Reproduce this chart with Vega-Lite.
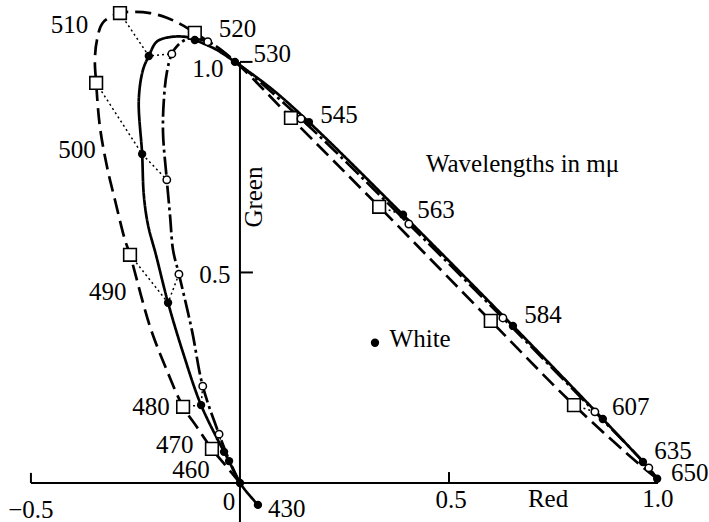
{
  "$schema": "https://vega.github.io/schema/vega-lite/v6.json",
  "width": 709,
  "height": 522,
  "padding": 0,
  "autosize": "none",
  "background": "white",
  "config": {"view": {"stroke": null}},
  "datasets": {
    "curves": [
      {"s": "A", "o": 1, "r": 0.043, "g": -0.052},
      {"s": "A", "o": 2, "r": 0, "g": 0},
      {"s": "A", "o": 3, "r": -0.026, "g": 0.052},
      {"s": "A", "o": 4, "r": -0.038, "g": 0.074},
      {"s": "A", "o": 5, "r": -0.093, "g": 0.185},
      {"s": "A", "o": 6, "r": -0.136, "g": 0.309},
      {"s": "A", "o": 7, "r": -0.172, "g": 0.428},
      {"s": "A", "o": 8, "r": -0.201, "g": 0.542},
      {"s": "A", "o": 9, "r": -0.22, "g": 0.613},
      {"s": "A", "o": 10, "r": -0.23, "g": 0.684},
      {"s": "A", "o": 11, "r": -0.234, "g": 0.781},
      {"s": "A", "o": 12, "r": -0.242, "g": 0.91},
      {"s": "A", "o": 13, "r": -0.232, "g": 0.981},
      {"s": "A", "o": 14, "r": -0.218, "g": 1.014},
      {"s": "A", "o": 15, "r": -0.199, "g": 1.048},
      {"s": "A", "o": 16, "r": -0.167, "g": 1.059},
      {"s": "A", "o": 17, "r": -0.127, "g": 1.059},
      {"s": "A", "o": 18, "r": -0.108, "g": 1.052},
      {"s": "A", "o": 19, "r": -0.06, "g": 1.031},
      {"s": "A", "o": 20, "r": -0.012, "g": 1.0},
      {"s": "A", "o": 21, "r": 0.077, "g": 0.935},
      {"s": "A", "o": 22, "r": 0.165, "g": 0.857},
      {"s": "A", "o": 23, "r": 0.39, "g": 0.637},
      {"s": "A", "o": 24, "r": 0.653, "g": 0.373},
      {"s": "A", "o": 25, "r": 0.868, "g": 0.152},
      {"s": "A", "o": 26, "r": 0.964, "g": 0.05},
      {"s": "A", "o": 27, "r": 0.998, "g": 0.01},
      {"s": "B", "o": 1, "r": 0, "g": 0},
      {"s": "B", "o": 2, "r": -0.033, "g": 0.04},
      {"s": "B", "o": 3, "r": -0.067, "g": 0.081},
      {"s": "B", "o": 4, "r": -0.103, "g": 0.133},
      {"s": "B", "o": 5, "r": -0.136, "g": 0.181},
      {"s": "B", "o": 6, "r": -0.175, "g": 0.268},
      {"s": "B", "o": 7, "r": -0.215, "g": 0.371},
      {"s": "B", "o": 8, "r": -0.263, "g": 0.542},
      {"s": "B", "o": 9, "r": -0.275, "g": 0.577},
      {"s": "B", "o": 10, "r": -0.299, "g": 0.672},
      {"s": "B", "o": 11, "r": -0.318, "g": 0.751},
      {"s": "B", "o": 12, "r": -0.335, "g": 0.846},
      {"s": "B", "o": 13, "r": -0.344, "g": 0.95},
      {"s": "B", "o": 14, "r": -0.347, "g": 1.005},
      {"s": "B", "o": 15, "r": -0.342, "g": 1.052},
      {"s": "B", "o": 16, "r": -0.328, "g": 1.093},
      {"s": "B", "o": 17, "r": -0.287, "g": 1.116},
      {"s": "B", "o": 18, "r": -0.256, "g": 1.119},
      {"s": "B", "o": 19, "r": -0.215, "g": 1.116},
      {"s": "B", "o": 20, "r": -0.175, "g": 1.105},
      {"s": "B", "o": 21, "r": -0.139, "g": 1.088},
      {"s": "B", "o": 22, "r": -0.108, "g": 1.069},
      {"s": "B", "o": 23, "r": -0.053, "g": 1.033},
      {"s": "B", "o": 24, "r": 0.0, "g": 0.99},
      {"s": "B", "o": 25, "r": 0.122, "g": 0.867},
      {"s": "B", "o": 26, "r": 0.333, "g": 0.656},
      {"s": "B", "o": 27, "r": 0.6, "g": 0.385},
      {"s": "B", "o": 28, "r": 0.799, "g": 0.185},
      {"s": "B", "o": 29, "r": 0.957, "g": 0.043},
      {"s": "B", "o": 30, "r": 0.998, "g": 0.01},
      {"s": "C", "o": 1, "r": 0, "g": 0},
      {"s": "C", "o": 2, "r": -0.024, "g": 0.05},
      {"s": "C", "o": 3, "r": -0.05, "g": 0.116},
      {"s": "C", "o": 4, "r": -0.089, "g": 0.23},
      {"s": "C", "o": 5, "r": -0.115, "g": 0.363},
      {"s": "C", "o": 6, "r": -0.146, "g": 0.496},
      {"s": "C", "o": 7, "r": -0.16, "g": 0.553},
      {"s": "C", "o": 8, "r": -0.167, "g": 0.632},
      {"s": "C", "o": 9, "r": -0.175, "g": 0.72},
      {"s": "C", "o": 10, "r": -0.184, "g": 0.831},
      {"s": "C", "o": 11, "r": -0.182, "g": 0.91},
      {"s": "C", "o": 12, "r": -0.175, "g": 0.974},
      {"s": "C", "o": 13, "r": -0.163, "g": 1.019},
      {"s": "C", "o": 14, "r": -0.148, "g": 1.04},
      {"s": "C", "o": 15, "r": -0.124, "g": 1.055},
      {"s": "C", "o": 16, "r": -0.077, "g": 1.048},
      {"s": "C", "o": 17, "r": -0.007, "g": 0.998},
      {"s": "C", "o": 18, "r": 0.146, "g": 0.865},
      {"s": "C", "o": 19, "r": 0.404, "g": 0.615},
      {"s": "C", "o": 20, "r": 0.629, "g": 0.392},
      {"s": "C", "o": 21, "r": 0.849, "g": 0.169},
      {"s": "C", "o": 22, "r": 0.978, "g": 0.036},
      {"s": "C", "o": 23, "r": 0.998, "g": 0.01}
    ],
    "markers": [
      {"s": "A", "wl": 430, "r": 0.043, "g": -0.052},
      {"s": "A", "wl": null, "r": 0, "g": 0},
      {"s": "A", "wl": 460, "r": -0.026, "g": 0.052},
      {"s": "A", "wl": 470, "r": -0.038, "g": 0.074},
      {"s": "A", "wl": 480, "r": -0.093, "g": 0.185},
      {"s": "A", "wl": 490, "r": -0.172, "g": 0.428},
      {"s": "A", "wl": 500, "r": -0.234, "g": 0.781},
      {"s": "A", "wl": 510, "r": -0.218, "g": 1.014},
      {"s": "A", "wl": 520, "r": -0.108, "g": 1.052},
      {"s": "A", "wl": 530, "r": -0.012, "g": 1.0},
      {"s": "A", "wl": 545, "r": 0.165, "g": 0.857},
      {"s": "A", "wl": 563, "r": 0.39, "g": 0.637},
      {"s": "A", "wl": 584, "r": 0.653, "g": 0.373},
      {"s": "A", "wl": 607, "r": 0.868, "g": 0.152},
      {"s": "A", "wl": 635, "r": 0.964, "g": 0.05},
      {"s": "A", "wl": 650, "r": 0.998, "g": 0.01},
      {"s": "B", "wl": 470, "r": -0.067, "g": 0.081},
      {"s": "B", "wl": 480, "r": -0.136, "g": 0.181},
      {"s": "B", "wl": 490, "r": -0.263, "g": 0.542},
      {"s": "B", "wl": 500, "r": -0.344, "g": 0.95},
      {"s": "B", "wl": 510, "r": -0.287, "g": 1.116},
      {"s": "B", "wl": 520, "r": -0.108, "g": 1.069},
      {"s": "B", "wl": 545, "r": 0.122, "g": 0.867},
      {"s": "B", "wl": 563, "r": 0.333, "g": 0.656},
      {"s": "B", "wl": 584, "r": 0.6, "g": 0.385},
      {"s": "B", "wl": 607, "r": 0.799, "g": 0.185},
      {"s": "C", "wl": 470, "r": -0.05, "g": 0.116},
      {"s": "C", "wl": 480, "r": -0.089, "g": 0.23},
      {"s": "C", "wl": 490, "r": -0.146, "g": 0.496},
      {"s": "C", "wl": 500, "r": -0.175, "g": 0.72},
      {"s": "C", "wl": 510, "r": -0.163, "g": 1.019},
      {"s": "C", "wl": 520, "r": -0.077, "g": 1.048},
      {"s": "C", "wl": 545, "r": 0.146, "g": 0.865},
      {"s": "C", "wl": 563, "r": 0.404, "g": 0.615},
      {"s": "C", "wl": 584, "r": 0.629, "g": 0.392},
      {"s": "C", "wl": 607, "r": 0.849, "g": 0.169},
      {"s": "C", "wl": 635, "r": 0.978, "g": 0.036},
      {"s": "W", "wl": null, "r": 0.323, "g": 0.333}
    ],
    "axes": [
      {"r": -0.5, "g": 0, "r2": 1.0, "g2": 0},
      {"r": 0, "g": -0.093, "r2": 0, "g2": 1.0},
      {"r": -0.5, "g": 0, "r2": -0.5, "g2": 0.024},
      {"r": 0.5, "g": 0, "r2": 0.5, "g2": 0.026},
      {"r": 0, "g": 0.5, "r2": 0.031, "g2": 0.5},
      {"r": 0, "g": 1.0, "r2": 0.03, "g2": 1.0}
    ],
    "labels": [
      {"t": "510", "r": -0.408, "g": 1.069},
      {"t": "520", "r": -0.006, "g": 1.059},
      {"t": "530", "r": 0.077, "g": 1.0},
      {"t": "545", "r": 0.237, "g": 0.855},
      {"t": "563", "r": 0.469, "g": 0.629},
      {"t": "584", "r": 0.725, "g": 0.38},
      {"t": "607", "r": 0.935, "g": 0.162},
      {"t": "635", "r": 1.036, "g": 0.058},
      {"t": "650", "r": 1.076, "g": 0.005},
      {"t": "430", "r": 0.112, "g": -0.081},
      {"t": "460", "r": -0.117, "g": 0.012},
      {"t": "470", "r": -0.156, "g": 0.071},
      {"t": "480", "r": -0.213, "g": 0.162},
      {"t": "490", "r": -0.316, "g": 0.435},
      {"t": "500", "r": -0.39, "g": 0.772},
      {"t": "White", "r": 0.431, "g": 0.323},
      {"t": "Wavelengths in mμ", "r": 0.676, "g": 0.739},
      {"t": "1.0", "r": -0.077, "g": 0.964},
      {"t": "0.5", "r": -0.06, "g": 0.475},
      {"t": "0", "r": -0.026, "g": -0.064},
      {"t": "−0.5", "r": -0.5, "g": -0.082},
      {"t": "0.5", "r": 0.505, "g": -0.059},
      {"t": "Red", "r": 0.737, "g": -0.057},
      {"t": "1.0", "r": 1.0, "g": -0.057}
    ],
    "vlabels": [
      {"t": "Green", "r": 0.033, "g": 0.679}
    ]
  },
  "encoding": {
    "x": {"field": "r", "type": "quantitative", "scale": {"domain": [-0.574, 1.122], "nice": false, "zero": false}, "axis": null},
    "y": {"field": "g", "type": "quantitative", "scale": {"domain": [-0.0926, 1.147], "nice": false, "zero": false}, "axis": null}
  },
  "layer": [
    {
      "data": {"name": "axes"},
      "mark": {"type": "rule", "stroke": "black", "strokeWidth": 2},
      "encoding": {
        "x2": {"field": "r2"},
        "y2": {"field": "g2"}
      }
    },
    {
      "data": {"name": "markers"},
      "transform": [{"filter": "datum.wl != null"}],
      "mark": {"type": "line", "stroke": "black", "strokeWidth": 1.5, "strokeDash": [2, 3]},
      "encoding": {
        "detail": {"field": "wl", "type": "nominal"},
        "order": {"field": "r", "type": "quantitative"}
      }
    },
    {
      "data": {"name": "curves"},
      "mark": {"type": "line", "stroke": "black", "strokeWidth": 2.7, "interpolate": "catmull-rom"},
      "encoding": {
        "detail": {"field": "s", "type": "nominal"},
        "order": {"field": "o", "type": "quantitative"},
        "strokeDash": {"field": "s", "type": "nominal", "scale": {"domain": ["A", "B", "C"], "range": [[1, 0], [16, 7], [18, 4, 3, 4]]}, "legend": null}
      }
    },
    {
      "data": {"name": "markers"},
      "transform": [{"filter": "datum.s == 'B'"}],
      "mark": {"type": "point", "shape": "square", "filled": true, "fill": "white", "stroke": "black", "strokeWidth": 1.6, "size": 160, "opacity": 1}
    },
    {
      "data": {"name": "markers"},
      "transform": [{"filter": "datum.s == 'C'"}],
      "mark": {"type": "point", "shape": "circle", "filled": true, "fill": "white", "stroke": "black", "strokeWidth": 1.5, "size": 55, "opacity": 1}
    },
    {
      "data": {"name": "markers"},
      "transform": [{"filter": "datum.s == 'A' || datum.s == 'W'"}],
      "mark": {"type": "point", "shape": "circle", "filled": true, "fill": "black", "size": 70, "opacity": 1}
    },
    {
      "data": {"name": "labels"},
      "mark": {"type": "text", "font": "Liberation Serif", "fontSize": 25, "align": "center", "baseline": "alphabetic", "color": "black"},
      "encoding": {"text": {"field": "t"}}
    },
    {
      "data": {"name": "vlabels"},
      "mark": {"type": "text", "font": "Liberation Serif", "fontSize": 25, "align": "center", "baseline": "middle", "angle": 270, "color": "black"},
      "encoding": {"text": {"field": "t"}}
    }
  ]
}
